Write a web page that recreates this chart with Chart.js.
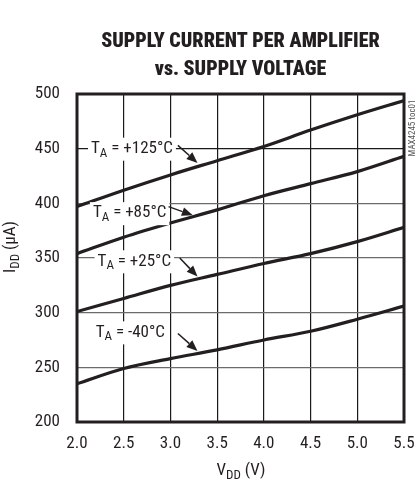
<!DOCTYPE html>
<html>
<head>
<meta charset="utf-8">
<script src="https://cdn.jsdelivr.net/npm/chart.js@4/dist/chart.umd.min.js"></script>
<style>
  html, body { margin: 0; padding: 0; background: #fff; }
  canvas { display: block; }
</style>
</head>
<body>
<canvas id="chart" width="416" height="485"></canvas>
<script>
// supply voltage (V) and supply current per amplifier (uA)
const voltages = [2.0, 2.5, 3.0, 3.5, 4.0, 4.5, 5.0, 5.5];
const idd125 = [397, 412, 426, 439, 452, 467, 481, 494];
const idd85 = [354, 369, 382, 394, 407, 418, 429, 443];
const idd25 = [301, 313, 325, 335, 345, 354, 365, 378];
const iddMinus40 = [235, 249, 258, 266, 275, 283, 294, 306];
const tempNames = ['+125°C', '+85°C', '+25°C', '-40°C'];
const xTickValues = [2.0, 2.5, 3.0, 3.5, 4.0, 4.5, 5.0, 5.5];
const yTickValues = [200, 250, 300, 350, 400, 450, 500];

// label placement in data units: text left x, text centre y, arrow from -> to
const callouts = [
  { x: 2.15, y: 450, ax: 3.08, ay: 453, bx: 3.29, by: 437 },
  { x: 2.17, y: 391, ax: 2.98, ay: 397, bx: 3.24, by: 389 },
  { x: 2.22, y: 347, ax: 3.10, ay: 350, bx: 3.29, by: 333 },
  { x: 2.20, y: 282, ax: 3.08, ay: 281, bx: 3.29, by: 265 }
];

const FONT = "'Roboto Condensed', 'DejaVu Sans Condensed', sans-serif";
const INK = '#231f20';
const SIZE = 17;

// draw text made of parts, some of them subscript, starting at x (left), centred on y
function drawParts(ctx, parts, x, y, size) {
  const subSize = Math.round(size * 0.75);
  ctx.textBaseline = 'middle';
  ctx.textAlign = 'left';
  let cx = x;
  parts.forEach(p => {
    ctx.font = (p.sub ? subSize : size) + 'px ' + FONT;
    ctx.fillText(p.t, cx, p.sub ? y + size * 0.28 : y);
    cx += ctx.measureText(p.t).width;
  });
  return cx - x;
}

function partsWidth(ctx, parts, size) {
  const subSize = Math.round(size * 0.75);
  let w = 0;
  parts.forEach(p => {
    ctx.font = (p.sub ? subSize : size) + 'px ' + FONT;
    w += ctx.measureText(p.t).width;
  });
  return w;
}

function arrow(ctx, x1, y1, x2, y2) {
  const ang = Math.atan2(y2 - y1, x2 - x1);
  const head = 11, half = 4.5;
  const bx = x2 - head * Math.cos(ang), by = y2 - head * Math.sin(ang);
  ctx.beginPath();
  ctx.moveTo(x1, y1);
  ctx.lineTo(bx, by);
  ctx.lineWidth = 1.5;
  ctx.stroke();
  ctx.beginPath();
  ctx.moveTo(x2, y2);
  ctx.lineTo(bx + half * Math.sin(ang), by - half * Math.cos(ang));
  ctx.lineTo(bx - half * Math.sin(ang), by + half * Math.cos(ang));
  ctx.closePath();
  ctx.fill();
}

const decorations = {
  id: 'decorations',
  afterDatasetsDraw(chart) {
    const { ctx, chartArea: a, scales: { x, y } } = chart;
    ctx.save();
    ctx.fillStyle = INK;
    ctx.strokeStyle = INK;

    callouts.forEach((c, i) => {
      const parts = [{ t: 'T' }, { t: 'A', sub: true }, { t: ' = ' + tempNames[i] }];
      const px = x.getPixelForValue(c.x);
      const py = y.getPixelForValue(c.y);
      const w = partsWidth(ctx, parts, SIZE);
      ctx.fillStyle = '#fff';
      ctx.fillRect(px - 3, py - 11, w + 6, 23);
      ctx.fillStyle = INK;
      drawParts(ctx, parts, px, py, SIZE);
      arrow(ctx, x.getPixelForValue(c.ax), y.getPixelForValue(c.ay),
        x.getPixelForValue(c.bx), y.getPixelForValue(c.by));
    });

    // heavy frame
    ctx.lineWidth = 3;
    ctx.strokeRect(a.left, a.top, a.right - a.left, a.bottom - a.top);

    // axis titles
    const xParts = [{ t: 'V' }, { t: 'DD', sub: true }, { t: ' (V)' }];
    const xw = partsWidth(ctx, xParts, SIZE);
    drawParts(ctx, xParts, 241 - xw / 2, 471, SIZE);

    const yParts = [{ t: 'I' }, { t: 'DD', sub: true }, { t: ' (µA)' }];
    const yw = partsWidth(ctx, yParts, SIZE);
    ctx.save();
    ctx.translate(11, 247);
    ctx.rotate(-Math.PI / 2);
    drawParts(ctx, yParts, -yw / 2, 0, SIZE);
    ctx.restore();

    // figure code on the right edge
    ctx.save();
    ctx.fillStyle = '#555';
    ctx.font = '9px ' + FONT;
    ctx.textAlign = 'center';
    ctx.textBaseline = 'middle';
    ctx.translate(413, 128);
    ctx.rotate(-Math.PI / 2);
    ctx.fillText('MAX4245 toc01', 0, 0);
    ctx.restore();

    ctx.restore();
  }
};

function series(values) {
  return {
    data: voltages.map((v, i) => ({ x: v, y: values[i] })),
    borderColor: INK,
    borderWidth: 3.2,
    pointRadius: 0,
    fill: false,
    cubicInterpolationMode: 'monotone'
  };
}

new Chart(document.getElementById('chart'), {
  type: 'line',
  data: {
    datasets: [series(idd125), series(idd85), series(idd25), series(iddMinus40)]
  },
  options: {
    responsive: false,
    animation: false,
    devicePixelRatio: 1,
    layout: { padding: { left: 0, right: 12, top: 0, bottom: 0 } },
    plugins: {
      legend: { display: false },
      tooltip: { enabled: false },
      title: {
        display: true,
        fullSize: false,
        text: ['SUPPLY CURRENT PER AMPLIFIER', 'vs. SUPPLY VOLTAGE'],
        color: INK,
        font: { family: FONT, size: 20, weight: '900', lineHeight: 1.4 },
        padding: { top: 28, bottom: 10 }
      }
    },
    scales: {
      x: {
        type: 'linear',
        min: 2.0,
        max: 5.5,
        afterBuildTicks: s => { s.ticks = xTickValues.map(v => ({ value: v })); },
        afterFit: s => { s.height = 63; s.paddingLeft = 0; s.paddingRight = 0; },
        grid: { color: '#1a1a1a', lineWidth: 1.2, drawTicks: false },
        border: { display: false },
        ticks: {
          padding: 12,
          color: INK,
          font: { family: FONT, size: SIZE },
          callback: v => Number(v).toFixed(1)
        }
      },
      y: {
        min: 200,
        max: 500,
        afterBuildTicks: s => { s.ticks = yTickValues.map(v => ({ value: v })); },
        afterFit: s => { s.width = 77; s.paddingTop = 0; s.paddingBottom = 0; },
        grid: {
          color: c => (c.tick && c.tick.value === 450 ? '#1a1a1a' : '#6b6b6b'),
          lineWidth: 1.2,
          drawTicks: false
        },
        border: { display: false },
        ticks: {
          padding: 17,
          color: INK,
          font: { family: FONT, size: SIZE }
        }
      }
    }
  },
  plugins: [decorations]
});
</script>
</body>
</html>
